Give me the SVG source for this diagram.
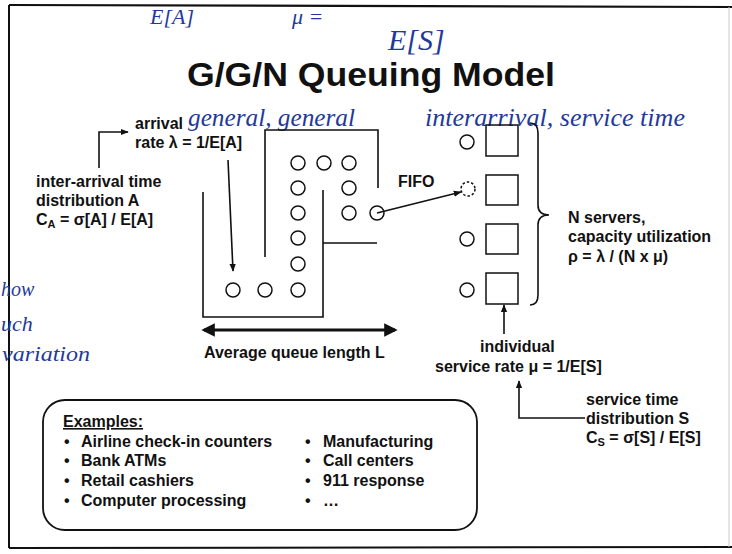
<svg xmlns="http://www.w3.org/2000/svg" width="732" height="554" viewBox="0 0 732 554">
<style>
.t{font-family:"Liberation Sans",Arial,sans-serif;font-weight:bold;font-size:16px;fill:#111}
.title{font-size:34px}
.hw{font-family:"Liberation Serif","DejaVu Serif",serif;font-style:italic;fill:#1f3a9a}
.ln{fill:none;stroke:#111;stroke-width:1.6}
.c{fill:none;stroke:#111;stroke-width:1.5}
</style>
<defs>
<marker id="ah" viewBox="0 0 10 10" refX="9" refY="5" markerWidth="8" markerHeight="8" markerUnits="userSpaceOnUse" orient="auto-start-reverse"><path d="M0,1 L10,5 L0,9 z" fill="#111"/></marker>
<marker id="ahb" viewBox="0 0 10 10" refX="8" refY="5" markerWidth="4.5" markerHeight="4.5" orient="auto-start-reverse"><path d="M0,0 L10,5 L0,10 z" fill="#111"/></marker>
</defs>
<rect width="732" height="554" fill="#fff"/>
<g id="frame">
<path d="M9,5 L732,7" stroke="#111" stroke-width="2.2" fill="none"/>
<path d="M9,5 V548" stroke="#111" stroke-width="2" fill="none"/>
<path d="M9,548 L732,547" stroke="#111" stroke-width="2" fill="none"/>
<path d="M729,7 V547" stroke="#ccc" stroke-width="1" fill="none"/>
</g>
<g id="handwriting">
<text class="hw" x="150" y="24" font-size="22">E[A]</text>
<text class="hw" x="292" y="24" font-size="22">μ =</text>
<text class="hw" x="388" y="50" font-size="30">E[S]</text>
<text class="hw" x="188" y="126" font-size="25" textLength="167" lengthAdjust="spacingAndGlyphs">general, general</text>
<text class="hw" x="425" y="126" font-size="25" textLength="260" lengthAdjust="spacingAndGlyphs">interarrival, service time</text>
<text class="hw" x="1" y="296" font-size="20">how</text>
<text class="hw" x="1" y="331" font-size="22">uch</text>
<text class="hw" x="2" y="361" font-size="22" textLength="88" lengthAdjust="spacingAndGlyphs">variation</text>
</g>
<g id="title"><text class="t title" x="187" y="86" textLength="368" lengthAdjust="spacingAndGlyphs">G/G/N Queuing Model</text></g>
<g id="arrival-label">
<text class="t" x="135" y="129">arrival</text>
<text class="t" x="135" y="148">rate λ = 1/E[A]</text>
</g>
<g id="interarrival-label">
<text class="t" x="36" y="187">inter-arrival time</text>
<text class="t" x="36" y="206">distribution A</text>
<text class="t" x="36" y="225">C<tspan font-size="11" dy="3">A</tspan><tspan dy="-3"> = σ[A] / E[A]</tspan></text>
</g>
<g id="queue">
<path class="ln" d="M265,257 V130 H378 V188"/>
<path class="ln" d="M203,192 V317 H323 V190 M323,243 H377"/>
<circle class="c" cx="298" cy="163" r="7"/><circle class="c" cx="324" cy="163" r="7"/><circle class="c" cx="349" cy="163" r="7"/>
<circle class="c" cx="298" cy="188" r="7"/><circle class="c" cx="349" cy="188" r="7"/>
<circle class="c" cx="298" cy="213" r="7"/><circle class="c" cx="349" cy="213" r="7"/>
<circle class="c" cx="298" cy="238" r="7"/><circle class="c" cx="298" cy="264" r="7"/>
<circle class="c" cx="233" cy="290" r="7"/><circle class="c" cx="265" cy="290" r="7"/><circle class="c" cx="298" cy="290" r="7"/>
<circle class="c" cx="377" cy="213" r="7"/>
</g>
<g id="fifo-label"><text class="t" x="398" y="187">FIFO</text></g>
<g id="servers">
<circle class="c" cx="467" cy="142" r="7"/>
<circle class="c" cx="468" cy="189" r="7" stroke-dasharray="2.5,2"/>
<circle class="c" cx="467" cy="239" r="7"/>
<circle class="c" cx="467" cy="290" r="7"/>
<rect class="c" x="486" y="125" width="32" height="31"/>
<rect class="c" x="486" y="175" width="32" height="30"/>
<rect class="c" x="486" y="224" width="32" height="30"/>
<rect class="c" x="486" y="273" width="32" height="31"/>
<path class="ln" d="M530,123 Q538,123 538,133 V205 Q538,215 549,215 Q538,215 538,225 V295 Q538,305 530,305"/>
</g>
<g id="servers-label">
<text class="t" x="568" y="223">N servers,</text>
<text class="t" x="568" y="242">capacity utilization</text>
<text class="t" x="568" y="262">ρ = λ / (N x μ)</text>
</g>
<g id="queue-length-label"><text class="t" x="204" y="358">Average queue length L</text></g>
<g id="service-rate-label">
<text class="t" x="480" y="352">individual</text>
<text class="t" x="435" y="372">service rate μ = 1/E[S]</text>
</g>
<g id="service-dist-label">
<text class="t" x="586" y="405">service time</text>
<text class="t" x="586" y="424">distribution S</text>
<text class="t" x="586" y="443">C<tspan font-size="11" dy="3">S</tspan><tspan dy="-3"> = σ[S] / E[S]</tspan></text>
</g>
<g id="connectors">
<path class="ln" d="M99,168 V132 H128" marker-end="url(#ah)"/>
<path class="ln" d="M228,160 L233,271" marker-end="url(#ah)"/>
<path class="ln" d="M377,213 L461,192" marker-end="url(#ah)"/>
<path d="M204,330 H395" stroke="#111" stroke-width="3" fill="none" marker-start="url(#ahb)" marker-end="url(#ahb)"/>
<path class="ln" d="M504,334 V305" marker-end="url(#ah)"/>
<path class="ln" d="M585,418 H519 V381" marker-end="url(#ah)"/>
</g>
<g id="examples">
<rect x="43" y="400" width="434" height="130" rx="22" fill="none" stroke="#111" stroke-width="1.8"/>
<text class="t" x="63" y="427" text-decoration="underline">Examples:</text>
<text class="t" x="64" y="447">•</text><text class="t" x="81" y="447">Airline check-in counters</text>
<text class="t" x="64" y="466">•</text><text class="t" x="81" y="466">Bank ATMs</text>
<text class="t" x="64" y="486">•</text><text class="t" x="81" y="486">Retail cashiers</text>
<text class="t" x="64" y="506">•</text><text class="t" x="81" y="506">Computer processing</text>
<text class="t" x="305" y="447">•</text><text class="t" x="323" y="447">Manufacturing</text>
<text class="t" x="305" y="466">•</text><text class="t" x="323" y="466">Call centers</text>
<text class="t" x="305" y="486">•</text><text class="t" x="323" y="486">911 response</text>
<text class="t" x="305" y="506">•</text><text class="t" x="323" y="506">…</text>
</g>
</svg>
